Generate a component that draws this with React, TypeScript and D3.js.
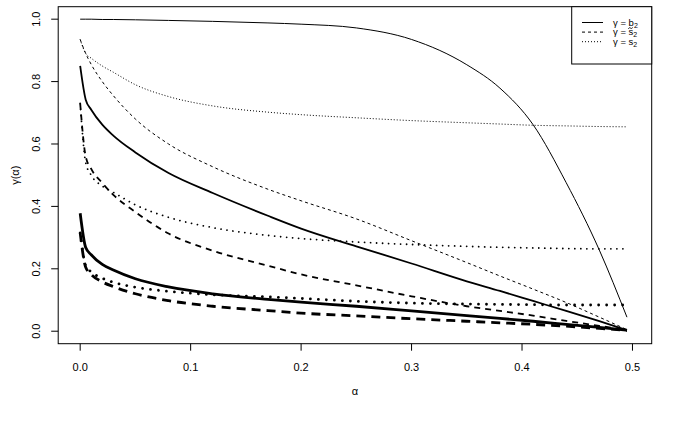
import * as d3 from 'd3';

// ─────────────────────────────────────────────────────────────────────────────
// Data
// ─────────────────────────────────────────────────────────────────────────────

const ALPHA = [
  0, 0.005, 0.01, 0.02, 0.03, 0.05, 0.08, 0.12, 0.17, 0.2, 0.25, 0.3, 0.35,
  0.38, 0.41, 0.44, 0.47, 0.495,
];

// thin lines
const B2_THIN = [
  1.0, 1.0, 1.0, 0.999, 0.999, 0.998, 0.996, 0.993, 0.988, 0.984, 0.972, 0.935,
  0.854, 0.779, 0.662, 0.476, 0.26, 0.045,
];
const S2T_THIN = [
  0.935, 0.89, 0.855, 0.8, 0.755, 0.68, 0.6, 0.527, 0.455, 0.418, 0.36, 0.29,
  0.22, 0.177, 0.135, 0.092, 0.045, 0.005,
];
const S2_THIN = [
  0.935, 0.89, 0.875, 0.85, 0.83, 0.79, 0.752, 0.722, 0.702, 0.694, 0.684,
  0.675, 0.668, 0.664, 0.66, 0.658, 0.656, 0.655,
];

// medium lines
const B2_MED = [
  0.85, 0.742, 0.71, 0.662, 0.627, 0.573, 0.507, 0.443, 0.37, 0.329, 0.272,
  0.217, 0.16, 0.129, 0.097, 0.065, 0.032, 0.003,
];
const S2T_MED = [
  0.73, 0.56, 0.52, 0.475, 0.437, 0.382, 0.313, 0.258, 0.21, 0.182, 0.147,
  0.112, 0.08, 0.065, 0.05, 0.033, 0.017, 0.003,
];
const S2_MED = [
  0.73, 0.54, 0.5, 0.465, 0.445, 0.405, 0.365, 0.332, 0.307, 0.297, 0.286,
  0.278, 0.272, 0.269, 0.267, 0.265, 0.264, 0.264,
];

// thick lines
const B2_THICK = [
  0.378, 0.268, 0.245, 0.214, 0.196, 0.168, 0.142, 0.12, 0.102, 0.093, 0.08,
  0.065, 0.05, 0.041, 0.032, 0.022, 0.012, 0.003,
];
const S2T_THICK = [
  0.315, 0.205, 0.182, 0.158, 0.143, 0.12, 0.098, 0.08, 0.066, 0.058, 0.049,
  0.04, 0.032, 0.027, 0.022, 0.016, 0.009, 0.003,
];
const S2_THICK = [
  0.315, 0.21, 0.19, 0.17, 0.157, 0.141, 0.128, 0.117, 0.11, 0.105, 0.096,
  0.09, 0.087, 0.086, 0.085, 0.084, 0.084, 0.084,
];

const X_TICKS = [0, 0.1, 0.2, 0.3, 0.4, 0.5];
const Y_TICKS = [0, 0.2, 0.4, 0.6, 0.8, 1.0];

// ─────────────────────────────────────────────────────────────────────────────
// Styles
// ─────────────────────────────────────────────────────────────────────────────

const W = 698;
const H = 429;
const box = { left: 58.2, right: 651.7, top: 6.7, bottom: 343.7 };
const FONT = "'Liberation Sans', Arial, Helvetica, sans-serif";

type Weight = 'thin' | 'med' | 'thick';
type Kind = 'solid' | 'dashed' | 'dotted';

const LTY: Record<Kind, Record<Weight, string | undefined>> = {
  solid: { thin: undefined, med: undefined, thick: undefined },
  dashed: { thin: '3,3', med: '6,5', thick: '9,6' },
  dotted: { thin: '1,2', med: '0.01,6', thick: '0.01,8' },
};
const LWD: Record<Weight, number> = { thin: 1, med: 1.8, thick: 2.8 };

const SERIES: { values: number[]; kind: Kind; weight: Weight }[] = [
  { values: B2_THIN, kind: 'solid', weight: 'thin' },
  { values: S2T_THIN, kind: 'dashed', weight: 'thin' },
  { values: S2_THIN, kind: 'dotted', weight: 'thin' },
  { values: B2_MED, kind: 'solid', weight: 'med' },
  { values: S2T_MED, kind: 'dashed', weight: 'med' },
  { values: S2_MED, kind: 'dotted', weight: 'med' },
  { values: B2_THICK, kind: 'solid', weight: 'thick' },
  { values: S2T_THICK, kind: 'dashed', weight: 'thick' },
  { values: S2_THICK, kind: 'dotted', weight: 'thick' },
];

export default function App() {
  const xMax = 0.4975;
  const x = d3
    .scaleLinear()
    .domain([-0.04 * xMax, xMax * 1.04])
    .range([box.left, box.right]);
  const y = d3
    .scaleLinear()
    .domain([-0.04, 1.04])
    .range([box.bottom, box.top]);

  const line = d3
    .line<number>()
    .x((_, i) => x(ALPHA[i]))
    .y((d) => y(d))
    .curve(d3.curveMonotoneX);

  const legendRows: { kind: Kind; label: string; tilde: boolean }[] = [
    { kind: 'solid', label: 'b', tilde: false },
    { kind: 'dashed', label: 's', tilde: true },
    { kind: 'dotted', label: 's', tilde: false },
  ];
  const legendFs = 9.5;

  return (
    <div style={{ position: 'absolute', left: 0, top: 0 }}>
      <svg
        width={W}
        height={H}
        viewBox={`0 0 ${W} ${H}`}
        style={{ display: 'block', background: '#fff', fontFamily: FONT }}
      >
        {/* curves */}
        {SERIES.map((s, i) => (
          <path
            key={i}
            d={line(s.values) ?? ''}
            fill='none'
            stroke='#000'
            strokeWidth={LWD[s.weight]}
            strokeDasharray={LTY[s.kind][s.weight]}
            strokeLinecap={
              s.kind === 'dotted' && s.weight !== 'thin' ? 'round' : 'butt'
            }
            strokeLinejoin='round'
          />
        ))}

        {/* plot box */}
        <rect
          x={box.left}
          y={box.top}
          width={box.right - box.left}
          height={box.bottom - box.top}
          fill='none'
          stroke='#000'
          strokeWidth={1}
        />

        {/* x axis */}
        {X_TICKS.map((t) => (
          <g key={t}>
            <line
              x1={x(t)}
              x2={x(t)}
              y1={box.bottom}
              y2={box.bottom + 7}
              stroke='#000'
            />
            <text
              x={x(t)}
              y={367}
              dy='0.35em'
              textAnchor='middle'
              fontSize={11}
              fill='#000'
            >
              {t.toFixed(1)}
            </text>
          </g>
        ))}
        <text
          x={(box.left + box.right) / 2}
          y={391}
          dy='0.35em'
          textAnchor='middle'
          fontSize={11}
        >
          α
        </text>

        {/* y axis */}
        {Y_TICKS.map((t) => (
          <g key={t}>
            <line
              x1={box.left - 7}
              x2={box.left}
              y1={y(t)}
              y2={y(t)}
              stroke='#000'
            />
            <text
              transform={`translate(36.5,${y(t)}) rotate(-90)`}
              dy='0.35em'
              textAnchor='middle'
              fontSize={11}
              fill='#000'
            >
              {t.toFixed(1)}
            </text>
          </g>
        ))}
        <text
          transform={`translate(15,${(box.top + box.bottom) / 2}) rotate(-90)`}
          dy='0.35em'
          textAnchor='middle'
          fontSize={11}
        >
          γ(α)
        </text>

        {/* legend */}
        <rect
          x={571.7}
          y={box.top}
          width={box.right - 571.7}
          height={64 - box.top}
          fill='#fff'
          stroke='#000'
          strokeWidth={1}
        />
        {legendRows.map((r, i) => {
          const ry = 22.5 + i * 9.6;
          const sx = 613 + legendFs * 1.59;
          return (
            <g key={r.kind}>
              <line
                x1={582}
                x2={603}
                y1={ry}
                y2={ry}
                stroke='#000'
                strokeWidth={1}
                strokeDasharray={LTY[r.kind].thin}
              />
              <text x={613} y={ry + 3} fontSize={legendFs} fill='#000'>
                <tspan>γ = {r.label}</tspan>
                <tspan dy={2.2} fontSize={7}>
                  2
                </tspan>
              </text>
              {r.tilde && (
                <path
                  d={`M${sx + 0.2},${ry - 3.4} q1.1,-1.6 2.2,-0.6 q1.1,1 2.2,-0.6`}
                  fill='none'
                  stroke='#000'
                  strokeWidth={0.9}
                />
              )}
            </g>
          );
        })}
      </svg>
    </div>
  );
}
